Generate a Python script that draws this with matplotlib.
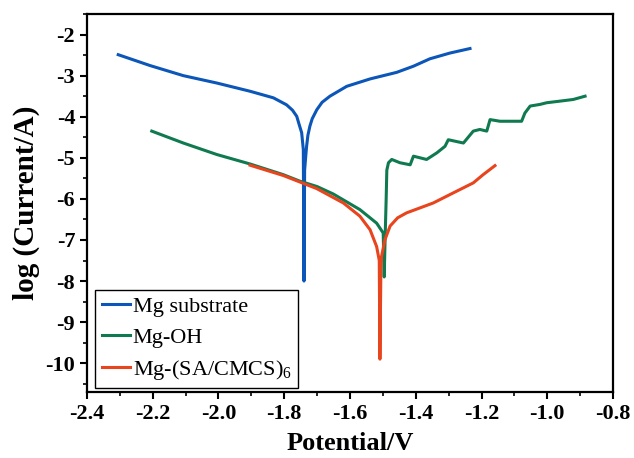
import matplotlib
matplotlib.use('Agg')
import matplotlib.pyplot as plt
from matplotlib.ticker import MultipleLocator

plt.rcParams['font.family'] = 'Liberation Serif'
plt.rcParams['mathtext.fontset'] = 'custom'
plt.rcParams['mathtext.rm'] = 'Liberation Serif'
plt.rcParams['axes.unicode_minus'] = False

# Mg substrate
mg_x = [-2.305, -2.208, -2.107, -2.005, -1.904, -1.833, -1.793, -1.775, -1.762, -1.755,
        -1.747, -1.742, -1.740, -1.738, -1.734, -1.732, -1.728, -1.722, -1.715, -1.701,
        -1.685, -1.661, -1.610, -1.539, -1.458, -1.407, -1.357, -1.296, -1.235]
mg_y = [-2.49, -2.755, -3.00, -3.18, -3.38, -3.54, -3.71, -3.84, -3.99, -4.18,
        -4.39, -4.80, -8.0, -5.3, -4.9, -4.72, -4.45, -4.23, -4.05, -3.83,
        -3.65, -3.50, -3.26, -3.08, -2.92, -2.77, -2.59, -2.45, -2.34]

# Mg-OH
oh_x = [-2.203, -2.107, -2.005, -1.904, -1.803, -1.752, -1.700, -1.651, -1.570, -1.519,
        -1.499, -1.496, -1.493, -1.490, -1.488, -1.483, -1.473, -1.448, -1.417, -1.407,
        -1.367, -1.336, -1.311, -1.301, -1.255, -1.225, -1.205, -1.184, -1.174, -1.144,
        -1.078, -1.068, -1.052, -1.022, -1.002, -0.961, -0.921, -0.885]
oh_y = [-4.35, -4.64, -4.92, -5.15, -5.41, -5.57, -5.70, -5.88, -6.26, -6.59,
        -6.83, -7.9, -6.9, -6.0, -5.3, -5.12, -5.04, -5.12, -5.17, -4.96,
        -5.04, -4.88, -4.72, -4.56, -4.64, -4.35, -4.31, -4.35, -4.07, -4.11,
        -4.11, -3.91, -3.74, -3.70, -3.66, -3.62, -3.58, -3.50]

# Mg-(SA/CMCS)6
sa_x = [-1.904, -1.803, -1.701, -1.620, -1.570, -1.539, -1.519, -1.511, -1.509, -1.506,
        -1.504, -1.494, -1.478, -1.455, -1.428, -1.347, -1.275, -1.225, -1.195, -1.159]
sa_y = [-5.18, -5.43, -5.75, -6.10, -6.42, -6.75, -7.16, -7.5, -9.9, -7.7,
        -7.4, -7.0, -6.66, -6.46, -6.34, -6.10, -5.81, -5.61, -5.41, -5.19]

fig = plt.figure(figsize=(6.34, 4.58), dpi=100)
ax = fig.add_axes([0.1372, 0.1441, 0.8297, 0.8253])

ax.plot(mg_x, mg_y, color='#0b56b8', lw=2.2, label='Mg substrate')
ax.plot(oh_x, oh_y, color='#0f7a50', lw=2.2, label='Mg-OH')
ax.plot(sa_x, sa_y, color='#e8441e', lw=2.2, label=r'Mg-(SA/CMCS)$_\mathregular{6}$')

ax.set_xlim(-2.4, -0.8)
ax.set_ylim(-10.7, -1.5)
ax.xaxis.set_major_locator(MultipleLocator(0.2))
ax.xaxis.set_minor_locator(MultipleLocator(0.1))
ax.yaxis.set_major_locator(MultipleLocator(1))
ax.yaxis.set_minor_locator(MultipleLocator(0.5))
ax.xaxis.set_major_formatter(lambda v, pos: '%.1f' % v)

for s in ax.spines.values():
    s.set_linewidth(1.6)
ax.tick_params(which='major', direction='out', length=5, width=1.5, labelsize=16)
ax.tick_params(which='minor', direction='out', length=3, width=1.2)
for lab in ax.get_xticklabels() + ax.get_yticklabels():
    lab.set_fontweight('bold')

ax.set_xlabel('Potential/V', fontsize=19, fontweight='bold', labelpad=6)
ax.set_ylabel('log (Current/A)', fontsize=21, fontweight='bold', labelpad=4)

leg = ax.legend(loc='lower left', bbox_to_anchor=(0.015, 0.01), borderaxespad=0,
                fontsize=16, handlelength=1.3, handletextpad=0.1, borderpad=0.3,
                labelspacing=0.45, fancybox=False, framealpha=1)
leg.get_frame().set_edgecolor('black')
leg.get_frame().set_linewidth(1.0)

plt.savefig('out.png', dpi=100)
